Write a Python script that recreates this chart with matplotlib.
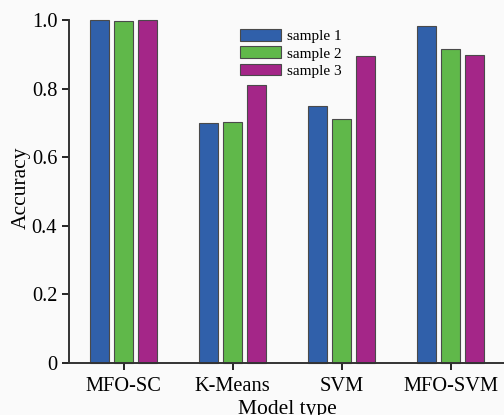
import matplotlib
matplotlib.use("Agg")
import matplotlib.pyplot as plt
import numpy as np

# values
models = ["MFO-SC", "K-Means", "SVM", "MFO-SVM"]
sample1 = [1.0, 0.701, 0.749, 0.983]
sample2 = [0.997, 0.704, 0.711, 0.916]
sample3 = [1.0, 0.809, 0.896, 0.899]
series_names = ["sample 1", "sample 2", "sample 3"]
colors = ["#3060aa", "#60b84a", "#a42688"]

plt.rcParams["font.family"] = ["Liberation Serif", "DejaVu Serif"]

fig = plt.figure(figsize=(5.04, 4.15), dpi=100, facecolor="#fafafa")
ax = fig.add_axes([0.137, 0.125, 0.865, 0.827])
ax.set_facecolor("#fafafa")

x = np.arange(len(models))
w = 0.175
step = 0.22
for i, (vals, name, c) in enumerate(zip([sample1, sample2, sample3], series_names, colors)):
    ax.bar(x + (i - 1) * step, vals, width=w, color=c, edgecolor="#4a4a4a",
           linewidth=0.8, label=name, clip_on=False)

ax.set_xlim(-0.5, 3.5)
ax.set_ylim(0, 1.0)
ax.set_yticks([0, 0.2, 0.4, 0.6, 0.8, 1.0])
ax.set_yticklabels(["0", "0.2", "0.4", "0.6", "0.8", "1.0"])
ax.set_xticks(x)
ax.set_xticklabels(models)
ax.tick_params(axis="both", labelsize=14.7, length=5, width=1.2, direction="out")
ax.tick_params(axis="x", pad=5)

for s in ["top", "right"]:
    ax.spines[s].set_visible(False)
for s in ["left", "bottom"]:
    ax.spines[s].set_linewidth(1.4)
    ax.spines[s].set_color("#333333")

ax.set_ylabel("Accuracy", fontsize=15.5)
ax.yaxis.set_label_coords(-0.087, 0.512)
ax.set_xlabel("Model type", fontsize=15.5, labelpad=3)

ax.legend(loc="upper left", bbox_to_anchor=(0.392, 0.973), frameon=False,
          fontsize=11, borderpad=0, borderaxespad=0, handlelength=2.7,
          handleheight=0.8, handletextpad=0.35, labelspacing=0.2)

fig.savefig("out.png", dpi=100, facecolor=fig.get_facecolor())
